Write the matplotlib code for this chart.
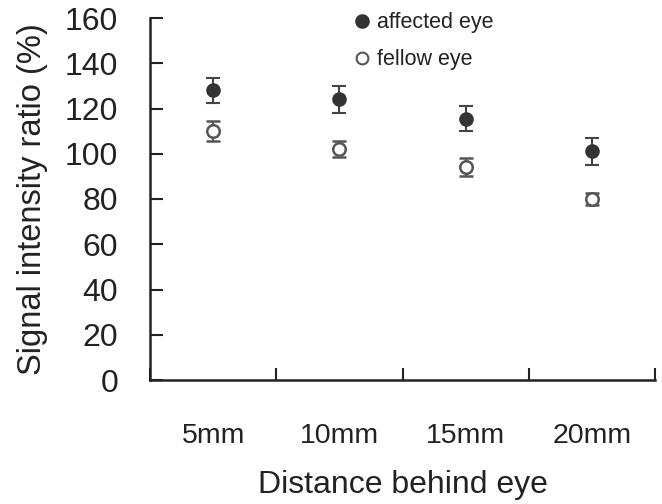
import matplotlib
matplotlib.use("Agg")
import matplotlib.pyplot as plt
import numpy as np
from matplotlib.lines import Line2D

categories = ["5mm", "10mm", "15mm", "20mm"]
affected = [128, 124, 115.5, 101]
affected_err = [5.5, 6, 5.5, 6]
fellow = [110, 102, 94, 80]
fellow_err = [4.5, 3.5, 4, 2.5]
yticks = [0, 20, 40, 60, 80, 100, 120, 140, 160]

plt.rcParams['font.family'] = ['Liberation Sans', 'DejaVu Sans']

fig = plt.figure(figsize=(6.62, 5.04), dpi=100)
ax = fig.add_axes([150/662, 124/504, 505/662, 362/504])

x = np.arange(len(categories)) + 0.5
ax.errorbar(x, affected, yerr=affected_err, fmt='o', color='#333333', ecolor='#444444',
            markersize=9.5, capsize=4.7, elinewidth=1.5, capthick=1.5, label='affected eye')
ax.errorbar(x, fellow, yerr=fellow_err, fmt='o', markerfacecolor='white', markeredgecolor='#555555',
            markeredgewidth=1.8, ecolor='#555555', markersize=9, capsize=4.7, elinewidth=1.5,
            capthick=1.5, label='fellow eye')

ax.set_xlim(0, 4)
ax.set_ylim(0, 160)
ax.set_yticks(yticks)
ax.set_xticks([0, 1, 2, 3, 4])
ax.set_xticklabels([])
ax.set_xticks(x, minor=True)
ax.set_xticklabels(categories, minor=True)
ax.tick_params(axis='x', which='major', direction='in', length=9, width=1.5, color='#222222')
ax.tick_params(axis='x', which='minor', length=0, pad=31, labelsize=20.5, labelcolor='#222222')
ax.tick_params(axis='y', direction='in', length=9, width=1.5, color='#222222', pad=23,
               labelsize=23, labelcolor='#222222')
for s in ['top', 'right']:
    ax.spines[s].set_visible(False)
for s in ['left', 'bottom']:
    ax.spines[s].set_linewidth(1.8)
    ax.spines[s].set_color('#222222')

ax.set_xlabel('Distance behind eye', fontsize=23, color='#222222', labelpad=15)
ax.set_ylabel('Signal intensity ratio (%)', fontsize=23.5, color='#222222', labelpad=12)

h1 = Line2D([], [], marker='o', linestyle='none', color='#333333', markersize=9.5)
h2 = Line2D([], [], marker='o', linestyle='none', markerfacecolor='white',
            markeredgecolor='#555555', markeredgewidth=1.5, markersize=8.5)
leg = fig.legend([h1, h2], ['affected eye', 'fellow eye'], loc='upper left',
                 bbox_to_anchor=(330/662, 1.014), frameon=False, fontsize=15.5,
                 handletextpad=0.1, labelspacing=0.75, handlelength=1.2)
for t in leg.get_texts():
    t.set_color('#222222')

fig.savefig('out.png', dpi=100)
